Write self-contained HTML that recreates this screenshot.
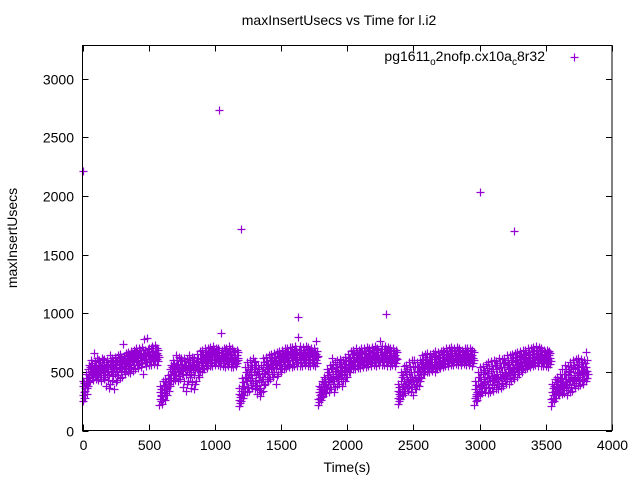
<!DOCTYPE html>
<html><head><meta charset="utf-8"><style>
body{margin:0;background:#fff}
svg{display:block}
text{font-family:"Liberation Sans",sans-serif;font-size:14px;fill:#000}
</style></head><body>
<svg id="chart" width="640" height="480" viewBox="0 0 640 480" xmlns="http://www.w3.org/2000/svg">
<rect width="640" height="480" fill="#fff"/>
<text x="339" y="25" text-anchor="middle">maxInsertUsecs vs Time for l.i2</text>
<text transform="translate(17,238) rotate(-90)" text-anchor="middle">maxInsertUsecs</text>
<text x="347" y="472" text-anchor="middle">Time(s)</text>
<g id="ticks"></g>
<g id="points"></g>
<rect x="82.5" y="45.5" width="529.5" height="385" fill="none" stroke="#000" stroke-width="1"/>
<g>
<text x="545" y="61" text-anchor="end">pg1611<tspan font-size="10" dy="4">o</tspan><tspan dy="-4">2nofp.cx10a</tspan><tspan font-size="10" dy="4">c</tspan><tspan dy="-4">8r32</tspan></text>
<path d="M570.5 57.5h8M574.5 53.5v8" stroke="#9400d3" stroke-width="1.2"/>
</g>
</svg>
<script>
const xTicks=[0,500,1000,1500,2000,2500,3000,3500,4000];
const yTicks=[0,500,1000,1500,2000,2500,3000];
const times=[0,20,40,60,80,100,120,140,160,180,200,220,240,260,280,300,320,340,360,380,400,420,440,460,480,500,520,540,560,
580,600,620,640,660,680,700,720,740,760,780,800,820,840,860,880,900,920,940,960,980,1000,1020,1040,1060,1080,1100,1120,1140,1160,
1180,1200,1220,1240,1260,1280,1300,1320,1340,1360,1380,1400,1420,1440,1460,1480,1500,1520,1540,1560,1580,1600,1620,1640,1660,1680,1700,1720,1740,1760,
1780,1800,1820,1840,1860,1880,1900,1920,1940,1960,1980,2000,2020,2040,2060,2080,2100,2120,2140,2160,2180,2200,2220,2240,2260,2280,2300,2320,2340,2360,
2380,2400,2420,2440,2460,2480,2500,2520,2540,2560,2580,2600,2620,2640,2660,2680,2700,2720,2740,2760,2780,2800,2820,2840,2860,2880,2900,2920,2940,
2960,2980,3000,3020,3040,3060,3080,3100,3120,3140,3160,3180,3200,3220,3240,3260,3280,3300,3320,3340,3360,3380,3400,3420,3440,3460,3480,3500,3520,
3540,3560,3580,3600,3620,3640,3660,3680,3700,3720,3740,3760,3780,3800];
const samples=[
[250,300,380,420],[280,340,420,480],[380,450,520,560],[420,480,540,600],[430,490,550,660],[440,500,560,620],[430,500,560,600],[420,490,550,620],[440,500,560,610],[380,480,540,600],[360,470,550,640],[420,500,560,620],[350,480,570,630],[430,510,580,640],[450,530,590,650],[460,540,600,740],[480,550,610,660],[500,560,620,670],[490,570,630,680],[510,580,640,690],[520,590,650,700],[530,590,650,700],[540,600,660,710],[480,600,660,780],[550,610,670,790],[560,610,670,700],[560,620,680,720],[570,620,670,730],[560,610,660,700],
[220,270,330,380],[230,290,350,420],[260,320,380,440],[300,360,420,470],[380,450,520,560],[420,480,540,600],[430,500,560,640],[420,500,570,630],[440,510,570,620],[370,480,560,620],[340,470,550,610],[420,500,560,640],[360,480,570,630],[350,470,560,620],[420,520,590,650],[460,540,610,680],[500,560,620,690],[520,580,640,700],[530,590,650,700],[550,600,660,710],[550,610,670,720],[560,610,670,700],[560,620,670,700],[550,600,660,830],[550,600,660,700],[540,600,660,700],[550,610,670,720],[540,600,650,700],[540,590,640,680],[550,600,640,690],
[210,260,310,360],[250,300,380,450],[300,380,460,540],[330,420,500,580],[340,430,520,600],[360,450,540,620],[350,420,520,590],[310,380,480,560],[290,360,460,560],[340,440,540,620],[400,480,560,630],[420,500,570,640],[440,520,590,650],[460,540,600,660],[400,530,600,670],[480,560,620,680],[500,570,630,690],[520,580,640,700],[530,590,650,700],[540,600,650,710],[540,600,660,710],[550,610,670,720],[550,610,670,800],[550,600,660,720],[550,610,670,710],[560,610,670,720],[550,600,660,710],[550,610,660,700],[560,610,660,700],[550,600,650,760],
[220,270,330,380],[260,310,370,420],[290,350,410,460],[320,400,470,520],[330,420,500,560],[350,440,520,620],[330,420,510,580],[380,460,540,600],[400,480,550,610],[380,470,540,600],[420,500,570,630],[460,530,590,650],[500,560,620,680],[520,580,630,690],[520,580,640,700],[530,590,640,690],[530,590,650,700],[540,600,650,700],[540,600,660,710],[550,600,660,700],[550,610,660,710],[560,610,670,720],[550,610,670,700],[560,620,670,760],[560,610,670,720],[560,620,670,720],[550,610,660,710],[550,600,660,700],[560,610,660,700],[550,600,640,690],
[230,280,340,400],[270,330,420,500],[300,380,470,550],[320,400,480,560],[340,420,500,580],[330,410,500,600],[300,400,500,600],[350,430,510,580],[380,460,540,600],[450,520,580,640],[480,540,600,650],[500,550,600,660],[500,550,610,650],[510,560,610,660],[500,560,610,680],[520,570,620,670],[530,580,630,680],[540,590,640,690],[550,600,650,700],[550,600,650,700],[560,610,660,710],[560,610,660,700],[570,610,660,710],[560,610,650,700],[560,600,650,690],[570,610,650,700],[560,610,660,700],[560,610,650,700],[550,600,640,690],
[220,280,350,420],[260,330,420,500],[300,380,460,540],[320,400,480,550],[330,410,500,570],[320,400,490,580],[330,420,510,590],[340,430,520,600],[350,440,520,590],[350,440,530,620],[360,450,540,610],[380,460,540,620],[400,480,560,640],[400,490,570,640],[420,500,580,650],[440,520,590,660],[460,540,600,670],[480,550,610,680],[500,560,620,690],[520,580,630,690],[530,590,640,700],[540,600,650,700],[550,600,650,710],[560,610,660,720],[550,610,660,710],[550,600,650,700],[550,600,650,690],[550,600,640,690],[540,590,640,680],
[210,270,330,400],[250,300,380,440],[280,340,400,460],[300,360,420,480],[310,380,450,520],[320,400,480,560],[300,390,470,550],[330,420,500,580],[340,430,520,600],[360,450,530,610],[380,460,540,620],[390,470,550,610],[400,480,550,600],[420,480,540,670]];
const samplesB=[
[330,275,405,360],[395,310,450,365],[470,415,540,495],[505,455,575,525],[520,465,590,515],[475,535,600,505],[520,460,585,540],[530,455,600,510],[470,525,585,545],[505,430,570,525],[400,520,590,495],[465,530,595,545],[410,525,600,540],[470,545,615,560],[495,565,625,575],[510,570,635,585],[520,585,645,600],[530,595,655,610],[540,600,660,615],[555,610,670,625],[560,615,680,630],[565,620,685,630],[575,630,690,640],[580,635,690,645],[585,640,695,650],[590,645,705,625],[595,650,700,635],[600,645,700,655],[590,640,690,625],
[250,305,355,295],[270,320,390,345],[300,350,410,375],[340,400,450,420],[420,485,545,510],[450,510,575,525],[470,530,600,545],[465,535,600,515],[480,545,595,525],[420,520,595,540],[400,515,585,545],[460,530,605,545],[410,525,600,550],[400,515,595,545],[470,555,620,580],[505,575,650,595],[530,590,655,610],[550,610,670,625],[560,620,680,635],[575,630,690,645],[580,640,695,650],[585,640,690,625],[590,645,690,610],[575,630,685,615],[575,630,685,620],[570,630,680,610],[580,640,695,620],[570,625,680,600],[565,615,665,590],[575,620,665,600],
[235,285,335,300],[275,340,415,360],[340,420,500,450],[375,460,540,480],[385,475,560,500],[405,495,580,520],[385,470,555,505],[345,430,520,455],[325,410,510,440],[390,490,580,510],[440,520,595,545],[460,535,605,555],[480,555,620,575],[500,570,630,590],[465,565,635,585],[520,590,650,600],[535,600,660,615],[550,610,670,625],[560,620,675,630],[570,625,680,640],[570,630,685,645],[580,640,695,650],[580,640,690,655],[575,630,690,645],[580,640,690,650],[585,640,695,655],[575,630,685,645],[580,635,680,645],[585,635,680,645],[575,625,675,635],
[245,300,355,275],[285,340,395,320],[320,380,435,355],[360,435,495,415],[375,460,530,440],[395,480,570,455],[375,465,545,445],[420,500,570,480],[440,515,580,495],[425,505,570,485],[460,535,600,515],[495,560,620,545],[530,590,650,570],[550,605,660,585],[550,610,670,590],[560,615,665,600],[560,620,675,605],[570,625,680,610],[570,630,685,615],[575,630,680,620],[580,635,685,625],[585,640,695,630],[580,640,690,625],[590,645,695,630],[585,640,695,630],[590,645,695,635],[580,635,685,625],[575,630,680,620],[585,635,680,625],[575,620,665,610],
[255,310,370,290],[300,375,460,350],[340,425,510,400],[360,440,520,410],[380,460,540,430],[370,455,550,430],[350,450,550,420],[390,470,545,440],[420,500,570,480],[485,550,610,530],[510,570,625,555],[525,575,630,560],[525,580,630,565],[535,585,635,570],[530,585,645,570],[545,595,645,580],[555,605,655,590],[565,615,665,600],[575,625,675,610],[575,625,675,610],[585,635,685,620],[585,635,680,620],[590,635,685,620],[585,630,675,615],[580,625,670,610],[590,630,675,615],[585,635,680,620],[585,630,675,615],[575,620,665,605],
[250,315,385,290],[295,375,460,340],[340,420,500,390],[360,440,515,410],[370,455,535,420],[360,445,535,420],[375,465,550,430],[385,475,560,440],[395,480,555,450],[395,485,575,455],[405,495,575,465],[420,500,580,470],[440,520,600,490],[445,530,605,500],[460,540,615,510],[480,555,625,530],[500,570,635,550],[515,580,645,560],[530,590,655,575],[550,605,660,590],[560,615,670,600],[570,625,675,605],[575,625,680,610],[585,635,690,620],[580,635,685,615],[575,625,675,610],[575,625,670,605],[575,620,665,605],[565,615,660,595],
[240,300,365,280],[275,340,410,320],[310,370,430,350],[330,390,450,370],[345,415,485,390],[360,440,520,410],[345,430,510,400],[375,460,540,430],[385,475,560,440],[405,490,570,460],[420,500,580,480],[430,510,580,490],[440,515,575,500],[450,510,605,480]];
const outlierTimes=[1030,1200,1630,2290,3000,3260,0];
const outlierValues=[2730,1720,970,990,2030,1700,2210];

const X0=82.5,X1=612,Y0=430.5,Y3000=78.5;
function xScale(t){return X0+(X1-X0)*t/4000;}
function yScale(v){return Y0-(Y0-Y3000)*v/3000;}
const NS='http://www.w3.org/2000/svg';
const tg=document.getElementById('ticks');
let td='';
xTicks.forEach(t=>{
  const x=Math.round(xScale(t))+0.5;
  td+=`M${x} ${Y0}v-6M${x} 45.5v6`;
  const lb=document.createElementNS(NS,'text');
  
  
  lb.setAttribute('x',x);lb.setAttribute('y',450);lb.setAttribute('text-anchor','middle');
  lb.textContent=t;tg.appendChild(lb);
});
yTicks.forEach(v=>{
  const y=Math.round(yScale(v))+0.5;
  td+=`M${X0} ${y}h6M${X1} ${y}h-6`;
  const lb=document.createElementNS(NS,'text');
  
  
  lb.setAttribute('x',74);lb.setAttribute('y',y+5);lb.setAttribute('text-anchor','end');
  lb.textContent=v;tg.appendChild(lb);
});
const tp=document.createElementNS(NS,'path');


tp.setAttribute('d',td);tp.setAttribute('stroke','#000');tp.setAttribute('fill','none');
tg.appendChild(tp);

let pd='';
function plus(t,v){const x=Math.round(xScale(t))+0.5,y=Math.round(yScale(v))+0.5;pd+=`M${x-4} ${y}h8M${x} ${y-4}v8`;}
times.forEach((t,i)=>{
  (samples[i]||[]).forEach((v,k)=>plus(t+k*2,v));
  (samplesB[i]||[]).forEach((v,k)=>plus(t+10+k*2,v));
});
outlierTimes.forEach((t,i)=>plus(t,outlierValues[i]));
const pp=document.createElementNS(NS,'path');


pp.setAttribute('d',pd);pp.setAttribute('stroke','#9400d3');pp.setAttribute('stroke-width','1.2');pp.setAttribute('fill','none');
document.getElementById('points').appendChild(pp);
</script>
</body></html>
